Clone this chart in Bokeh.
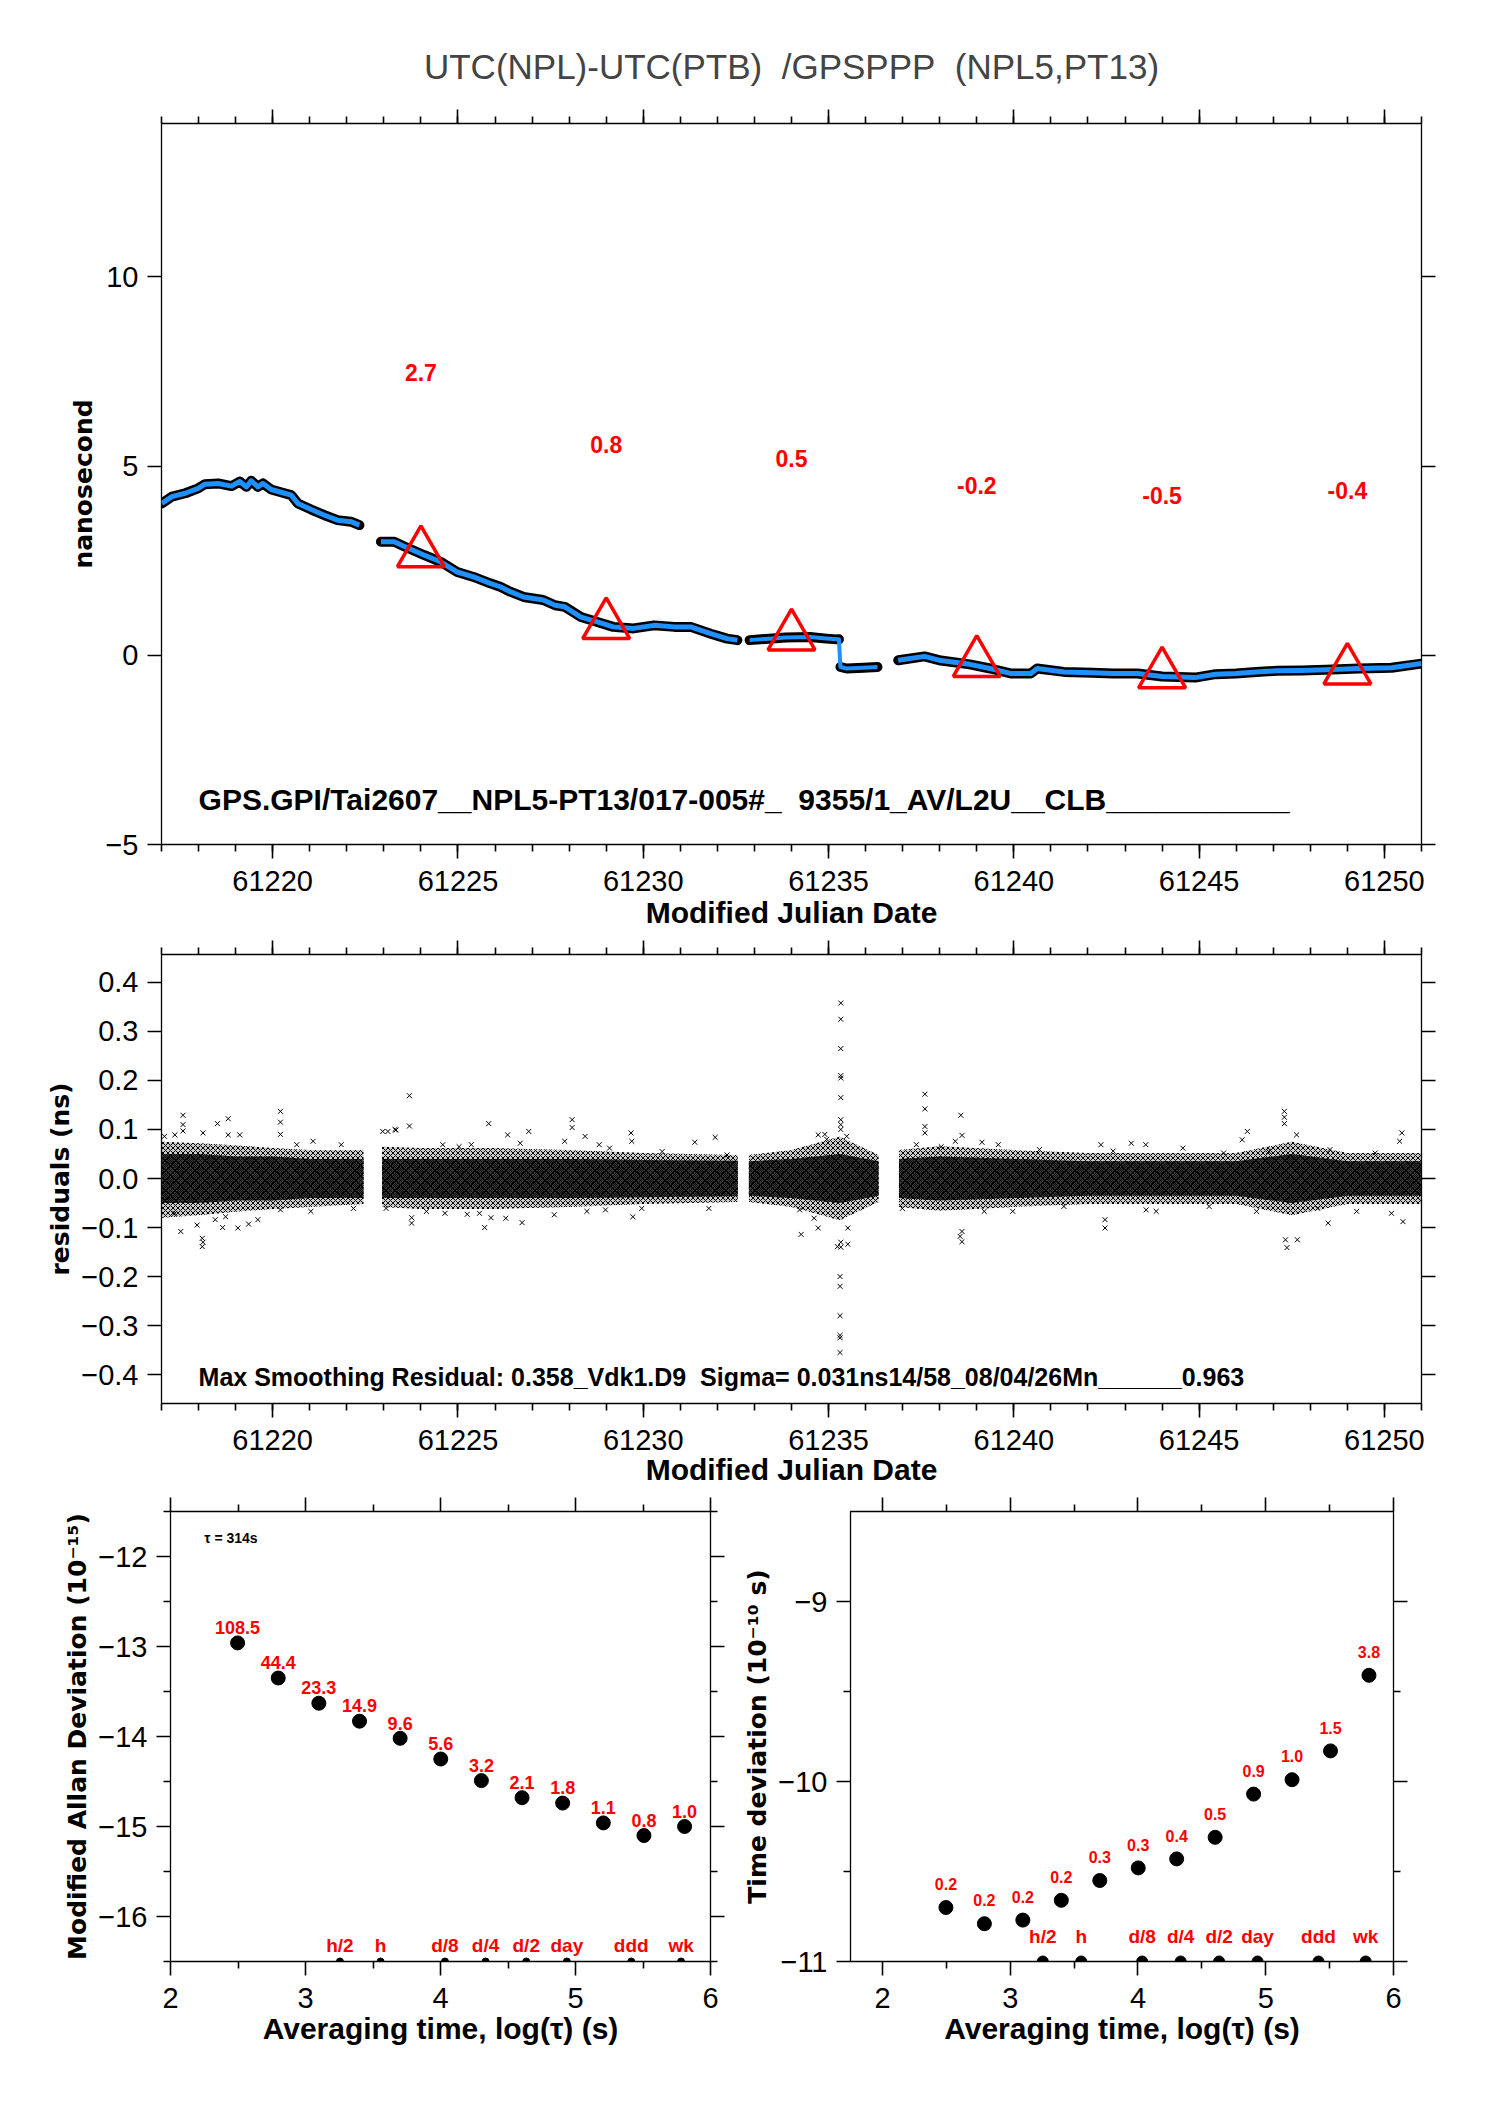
from bokeh.plotting import figure
from bokeh.models import LinearAxis, FixedTicker, Range1d, CustomJSTickFormatter
from bokeh.layouts import column, row
from bokeh.embed import file_html
from bokeh.resources import INLINE
from bokeh.core.properties import value

# ---------------- data ----------------
NB2 = "\u00a0\u00a0"
TITLE = "UTC(NPL)-UTC(PTB)" + NB2 + "/GPSPPP" + NB2 + "(NPL5,PT13)"
INFO_TOP = "GPS.GPI/Tai2607__NPL5-PT13/017-005#_" + NB2 + "9355/1_AV/L2U__CLB___________"
INFO_RES = "Max Smoothing Residual: 0.358_Vdk1.D9" + NB2 + "Sigma= 0.031ns14/58_08/04/26Mn______0.963"

seg1_mjd = [61217.01, 61217.28, 61217.64, 61217.99, 61218.17, 61218.53, 61218.89, 61219.11,
            61219.29, 61219.42, 61219.60, 61219.74, 61219.96, 61220.32, 61220.50, 61220.68,
            61221.04, 61221.40, 61221.75, 61222.11, 61222.34]
seg1_ns = [4.01, 4.19, 4.28, 4.41, 4.52, 4.54, 4.47, 4.59, 4.45, 4.61, 4.45, 4.54, 4.38, 4.28,
           4.23, 4.01, 3.85, 3.70, 3.57, 3.53, 3.44]
seg2_mjd = [61222.92, 61223.28, 61223.54, 61224.08, 61224.53, 61224.98, 61225.42, 61225.87,
            61226.14, 61226.41, 61226.77, 61227.30, 61227.62, 61227.88, 61228.32, 61228.76,
            61229.19, 61229.74, 61230.29, 61230.84, 61231.28, 61231.82, 61232.26, 61232.54]
seg2_ns = [3.00, 3.00, 2.88, 2.65, 2.47, 2.20, 2.07, 1.90, 1.81, 1.68, 1.54, 1.46, 1.32, 1.28,
           1.01, 0.88, 0.75, 0.71, 0.79, 0.75, 0.75, 0.57, 0.44, 0.40]
seg3a_mjd = [61232.87, 61233.84, 61234.50, 61234.94, 61235.22, 61235.28]
seg3a_ns = [0.40, 0.47, 0.48, 0.44, 0.42, 0.42]
seg3b_mjd = [61235.32, 61235.49, 61235.94, 61236.32]
seg3b_ns = [-0.31, -0.35, -0.33, -0.31]
seg4_mjd = [61236.88, 61237.59, 61238.03, 61238.81, 61239.36, 61239.91, 61240.46, 61240.63,
            61241.35, 61242.12, 61242.68, 61243.34, 61244.00, 61244.89, 61245.44, 61245.99,
            61246.54, 61247.10, 61247.76, 61248.42, 61249.31, 61250.19, 61251.0]
seg4_ns = [-0.13, -0.03, -0.14, -0.24, -0.35, -0.48, -0.48, -0.35, -0.44, -0.46, -0.48, -0.48,
           -0.56, -0.59, -0.50, -0.48, -0.44, -0.41, -0.40, -0.38, -0.35, -0.33, -0.22]

tri_mjd = [61224, 61229, 61234, 61239, 61244, 61249]
tri_ns = [2.7, 0.8, 0.5, -0.2, -0.5, -0.4]
tri_lbl = ["2.7", "0.8", "0.5", "-0.2", "-0.5", "-0.4"]
tri_lbl_y = [7.46, 5.56, 5.21, 4.48, 4.21, 4.35]

# residual band envelopes (per data segment)
resA_mjd = [61217.0, 61218.0, 61219.0, 61220.0, 61221.0, 61222.45]
resA_core = [0.050, 0.050, 0.045, 0.045, 0.040, 0.040]
resA_hi = [0.075, 0.072, 0.068, 0.062, 0.058, 0.058]
resA_lo = [-0.080, -0.075, -0.068, -0.062, -0.058, -0.052]
resB_mjd = [61222.95, 61224.0, 61226.0, 61228.0, 61230.0, 61232.55]
resB_core = [0.040, 0.040, 0.040, 0.040, 0.038, 0.036]
resB_hi = [0.065, 0.062, 0.062, 0.058, 0.052, 0.048]
resB_lo = [-0.058, -0.062, -0.062, -0.058, -0.052, -0.048]
resC_mjd = [61232.85, 61234.0, 61235.3, 61236.35]
resC_core = [0.035, 0.040, 0.050, 0.035]
resC_hi = [0.048, 0.058, 0.085, 0.048]
resC_lo = [-0.048, -0.058, -0.085, -0.048]
resD_mjd = [61236.9, 61238.0, 61240.0, 61242.0, 61244.0, 61246.0, 61247.5, 61249.0, 61251.0]
resD_core = [0.040, 0.045, 0.040, 0.035, 0.035, 0.035, 0.050, 0.035, 0.035]
resD_hi = [0.058, 0.066, 0.058, 0.052, 0.052, 0.052, 0.075, 0.052, 0.052]
resD_lo = [-0.058, -0.066, -0.058, -0.052, -0.052, -0.052, -0.075, -0.052, -0.052]

# isolated residual points outside the dense band
out_mjd = [61223.69, 61217.58, 61217.58, 61217.58, 61218.51, 61218.80, 61218.80, 61220.21,
           61220.21, 61220.21, 61223.69, 61225.83, 61228.08, 61228.08, 61229.67, 61231.94,
           61226.91, 61222.97, 61223.30,
           61218.10, 61218.10, 61218.12, 61217.52, 61217.96, 61219.06, 61219.35, 61218.65,
           61223.75, 61225.72, 61225.89, 61229.72, 61227.60, 61226.73, 61226.29, 61223.75,
           61235.33, 61235.33, 61235.33, 61235.33, 61235.33, 61235.33, 61235.33, 61235.33,
           61235.33, 61235.33, 61235.33, 61235.31, 61235.31, 61235.31, 61235.31, 61235.31, 61235.31,
           61237.60, 61237.60, 61237.60, 61237.60, 61238.57, 61238.60, 61238.60, 61238.60,
           61238.55, 61234.72, 61234.26, 61235.24, 61235.52, 61235.52, 61242.46, 61242.46,
           61247.30, 61247.30, 61247.30, 61247.63, 61246.30, 61247.37, 61247.33, 61247.65,
           61248.48, 61250.47, 61250.50, 61234.90, 61234.95]
out_ns = [0.169, 0.129, 0.110, 0.097, 0.112, 0.122, 0.089, 0.137,
          0.115, 0.090, 0.107, 0.112, 0.120, 0.104, 0.093, 0.084,
          0.096, 0.096, 0.100,
          -0.139, -0.122, -0.130, -0.108, -0.095, -0.101, -0.093, -0.100,
          -0.091, -0.100, -0.080, -0.078, -0.074, -0.090, -0.081, -0.080,
          0.358, 0.325, 0.265, 0.210, 0.205, 0.165, 0.120, 0.110,
          0.100, -0.130, -0.140, -0.200, -0.220, -0.280, -0.320, -0.325, -0.355,
          0.172, 0.142, 0.106, 0.093, 0.129, 0.088, -0.108, -0.129,
          -0.118, -0.101, -0.114, -0.139, -0.134, -0.101, -0.101, -0.084,
          0.137, 0.112, 0.125, 0.089, 0.096, -0.141, -0.125, -0.125,
          -0.091, 0.093, -0.088, 0.090, 0.080]
# residual points along the ragged edge of the band
edge_mjd = [61217.08, 61217.36, 61218.12, 61219.11, 61221.09, 61220.65, 61221.85, 61223.11,
            61223.33, 61224.59, 61225.03, 61225.36, 61226.34, 61226.68, 61227.88, 61228.43,
            61228.81, 61229.09, 61229.69, 61230.51, 61231.39, 61232.26,
            61217.36, 61218.45, 61218.73, 61219.60, 61220.21, 61221.03, 61222.18, 61223.06,
            61224.15, 61224.65, 61225.25, 61225.58, 61228.48, 61228.98, 61229.96, 61231.77,
            61234.22, 61234.61, 61235.49, 61234.72, 61236.99, 61237.37, 61238.04, 61238.42,
            61239.14, 61239.20, 61239.58, 61239.97, 61240.69, 61241.35, 61242.35, 61242.68,
            61243.17, 61243.56, 61243.57, 61243.84, 61244.56, 61245.27, 61245.66, 61246.16,
            61246.55, 61246.88, 61248.20, 61248.53, 61249.25, 61249.75, 61250.19, 61250.41]
edge_ns = [0.086, 0.089, 0.093, 0.089, 0.076, 0.069, 0.069, 0.096,
           0.099, 0.069, 0.065, 0.069, 0.089, 0.072, 0.076, 0.086,
           0.069, 0.062, 0.076, 0.055, 0.074, 0.048,
           -0.071, -0.084, -0.078, -0.084, -0.064, -0.067, -0.061, -0.061,
           -0.067, -0.071, -0.073, -0.071, -0.067, -0.064, -0.061, -0.061,
           -0.064, -0.081, 0.086, 0.089, -0.061, 0.069, 0.065, 0.076,
           0.074, -0.067, 0.069, -0.067, 0.059, -0.057, 0.069, 0.056,
           0.072, 0.069, -0.064, -0.067, 0.062, -0.057, 0.052, 0.079,
           -0.067, 0.055, -0.061, 0.059, -0.067, 0.052, -0.071, 0.076]

log_tau = [2.497, 2.798, 3.099, 3.400, 3.701, 4.002, 4.303, 4.604, 4.905, 5.206, 5.507, 5.808]
mdev_log = [-12.96, -13.35, -13.63, -13.83, -14.02, -14.25, -14.49, -14.68, -14.74, -14.96, -15.10, -15.00]
mdev_lbl = ["108.5", "44.4", "23.3", "14.9", "9.6", "5.6", "3.2", "2.1", "1.8", "1.1", "0.8", "1.0"]
tdev_log = [-10.70, -10.79, -10.77, -10.66, -10.55, -10.48, -10.43, -10.31, -10.07, -9.99, -9.83, -9.41]
tdev_lbl = ["0.2", "0.2", "0.2", "0.2", "0.3", "0.3", "0.4", "0.5", "0.9", "1.0", "1.5", "3.8"]
mark_log = [3.255, 3.556, 4.033, 4.334, 4.635, 4.936, 5.413, 5.782]
mark_lbl = ["h/2", "h", "d/8", "d/4", "d/2", "day", "ddd", "wk"]
TAU_TXT = "\u03c4 = 314s"

mjd_major = [61220, 61225, 61230, 61235, 61240, 61245, 61250]
mjd_minor = list(range(61217, 61252))

# ---------------- helpers ----------------
TICK_FONT = "Liberation Sans"
RED = "#ff0000"


def fmt(dec):
    return CustomJSTickFormatter(code="const s = Math.abs(tick).toFixed(%d); return (tick < -1e-9 ? '\\u2212' : '') + s;" % dec)


def blank():
    return CustomJSTickFormatter(code="return '';")


def style_axis(ax, ticks, minor, formatter=None, label=None, standoff=0, label_font="Liberation Sans",
               label_size="30px", label_gap=12):
    ax.ticker = FixedTicker(ticks=ticks, minor_ticks=minor)
    ax.major_tick_in = 0
    ax.major_tick_out = 14
    ax.minor_tick_in = 0
    ax.minor_tick_out = 7
    ax.major_tick_line_width = 1.6
    ax.minor_tick_line_width = 1.6
    ax.axis_line_color = None
    if formatter is None:
        ax.formatter = blank()
        ax.major_label_text_font_size = "0px"
        ax.major_label_standoff = 0
    else:
        ax.formatter = formatter
        ax.major_label_text_font = TICK_FONT
        ax.major_label_text_font_size = "29px"
        ax.major_label_text_color = "black"
        ax.major_label_standoff = label_gap
    if label is not None:
        ax.axis_label = label
        ax.axis_label_text_font = label_font
        ax.axis_label_text_font_size = label_size
        ax.axis_label_text_font_style = "bold"
        ax.axis_label_text_color = "black"
        ax.axis_label_standoff = standoff


def base_fig(w, h, xr, yr, left, right, top, bottom, title=None):
    p = figure(width=w, height=h, x_range=Range1d(*xr), y_range=Range1d(*yr),
               output_backend="svg", toolbar_location=None, title=title,
               min_border_left=left, min_border_right=right,
               min_border_top=top, min_border_bottom=bottom)
    p.xgrid.visible = False
    p.ygrid.visible = False
    p.outline_line_color = "black"
    p.outline_line_width = 1.3
    p.background_fill_color = "white"
    p.border_fill_color = "white"
    return p


def add_box_axes(p, xt, xm, yt, ym):
    top = LinearAxis()
    right = LinearAxis()
    p.add_layout(top, "above")
    p.add_layout(right, "right")
    style_axis(top, xt, xm)
    style_axis(right, yt, ym)


# ---------------- panel 1 ----------------
p1 = base_fig(1465, 940, (61217, 61251), (-5, 14.05), 161, 44, 123, 96, title=TITLE)
p1.title.align = "center"
p1.title.text_font = "Liberation Sans"
p1.title.text_font_size = "35px"
p1.title.text_font_style = "normal"
p1.title.standoff = 47

for xs, ys in [(seg1_mjd, seg1_ns), (seg2_mjd, seg2_ns), (seg3a_mjd, seg3a_ns),
               (seg3b_mjd, seg3b_ns), (seg4_mjd, seg4_ns)]:
    p1.line(xs, ys, line_color="black", line_width=10, line_join="round", line_cap="round")
p1.line(seg1_mjd, seg1_ns, line_color="#1E90FF", line_width=5, line_join="round")
p1.line(seg2_mjd, seg2_ns, line_color="#1E90FF", line_width=5, line_join="round")
p1.line(seg3a_mjd + seg3b_mjd, seg3a_ns + seg3b_ns, line_color="#1E90FF", line_width=4, line_join="round")
p1.line(seg4_mjd, seg4_ns, line_color="#1E90FF", line_width=5, line_join="round")

p1.scatter(tri_mjd, tri_ns, marker="triangle", size=47, fill_color=None,
           line_color=RED, line_width=3.5)
p1.text(tri_mjd, tri_lbl_y, text=tri_lbl, text_color=RED, text_font=value("Liberation Sans"),
        text_font_style="bold", text_font_size="23px", text_align="center", text_baseline="middle")
p1.text([61218.0], [-3.8], text=[INFO_TOP], text_color="black", text_font=value("Liberation Sans"),
        text_font_style="bold", text_font_size="30px", text_align="left", text_baseline="middle")

style_axis(p1.xaxis[0], mjd_major, mjd_minor, fmt(0), "Modified Julian Date", 2)
style_axis(p1.yaxis[0], [-5, 0, 5, 10], [], fmt(0), "nanosecond", 4, "DejaVu Sans", "25px", 9)
add_box_axes(p1, mjd_major, mjd_minor, [-5, 0, 5, 10], [])

# ---------------- panel 2 ----------------
p2 = base_fig(1465, 557, (61217, 61251), (-0.459, 0.457), 161, 44, 13, 94)
for xs, core, hi, lo in [(resA_mjd, resA_core, resA_hi, resA_lo), (resB_mjd, resB_core, resB_hi, resB_lo),
                         (resC_mjd, resC_core, resC_hi, resC_lo), (resD_mjd, resD_core, resD_hi, resD_lo)]:
    p2.varea(x=xs, y1=lo, y2=hi, fill_color="black", fill_alpha=0.2,
             hatch_pattern="x", hatch_color="black", hatch_scale=5, hatch_weight=1, hatch_alpha=1.0)
    p2.varea(x=xs, y1=[-c for c in core], y2=core, fill_color="black", fill_alpha=0.72,
             hatch_pattern="x", hatch_color="black", hatch_scale=4, hatch_weight=1)
p2.scatter(edge_mjd, edge_ns, marker="x", size=7, line_color="black", line_width=1)
p2.scatter(out_mjd, out_ns, marker="x", size=7, line_color="black", line_width=1)
p2.text([61218.0], [-0.405], text=[INFO_RES], text_color="black", text_font=value("Liberation Sans"),
        text_font_style="bold", text_font_size="25px", text_align="left", text_baseline="middle")

res_ticks = [-0.4, -0.3, -0.2, -0.1, 0.0, 0.1, 0.2, 0.3, 0.4]
style_axis(p2.xaxis[0], mjd_major, mjd_minor, fmt(0), "Modified Julian Date", 0)
style_axis(p2.yaxis[0], res_ticks, [], fmt(1), "residuals (ns)", 3, "DejaVu Sans", "25px", 9)
add_box_axes(p2, mjd_major, mjd_minor, res_ticks, [])

# ---------------- panel 3 ----------------
p3 = base_fig(740, 560, (2, 6), (-16.5, -11.5), 170, 30, 14, 96)
p3.scatter(mark_log, [-16.5] * len(mark_log), size=7, color="black")
p3.scatter(log_tau, mdev_log, size=14, color="black")
p3.text(log_tau, [v + 0.17 for v in mdev_log], text=mdev_lbl, text_color=RED,
        text_font=value("Liberation Sans"), text_font_style="bold", text_font_size="18px",
        text_align="center", text_baseline="middle")
p3.text(mark_log, [-16.32] * len(mark_log), text=mark_lbl, text_color=RED,
        text_font=value("Liberation Sans"), text_font_style="bold", text_font_size="19px",
        text_align="center", text_baseline="middle")
p3.text([2.25], [-11.79], text=[TAU_TXT], text_color="black", text_font=value("Liberation Sans"),
        text_font_style="bold", text_font_size="14px", text_align="left", text_baseline="middle")

xt = [2, 3, 4, 5, 6]
xm = [2.5, 3.5, 4.5, 5.5]
y3 = [-16, -15, -14, -13, -12]
y3m = [-16.5, -15.5, -14.5, -13.5, -12.5, -11.5]
style_axis(p3.xaxis[0], xt, xm, fmt(0), "Averaging time, log(\u03c4) (s)", 1)
style_axis(p3.yaxis[0], y3, y3m, fmt(0), "Modified Allan Deviation (10\u207b\u00b9\u2075)", 3, "DejaVu Sans", "25px", 9)
add_box_axes(p3, xt, xm, y3, y3m)

# ---------------- panel 4 ----------------
p4 = base_fig(697, 560, (1.75, 6), (-11, -8.5), 110, 44, 14, 96)
p4.scatter(mark_log, [-11.0] * len(mark_log), size=11, color="black")
p4.scatter(log_tau, tdev_log, size=14, color="black")
p4.text(log_tau, [v + 0.13 for v in tdev_log], text=tdev_lbl, text_color=RED,
        text_font=value("Liberation Sans"), text_font_style="bold", text_font_size="16px",
        text_align="center", text_baseline="middle")
p4.text(mark_log, [-10.86] * len(mark_log), text=mark_lbl, text_color=RED,
        text_font=value("Liberation Sans"), text_font_style="bold", text_font_size="19px",
        text_align="center", text_baseline="middle")

y4 = [-11, -10, -9]
y4m = [-10.5, -9.5]
style_axis(p4.xaxis[0], xt, xm, fmt(0), "Averaging time, log(\u03c4) (s)", 1)
style_axis(p4.yaxis[0], y4, y4m, fmt(0), "Time deviation (10\u207b\u00b9\u2070 s)", 3, "DejaVu Sans", "25px", 9)
add_box_axes(p4, xt, xm, y4, y4m)

layout = column(p1, p2, row(p3, p4, spacing=0), spacing=0)
open("out.html", "w").write(file_html(layout, INLINE))
